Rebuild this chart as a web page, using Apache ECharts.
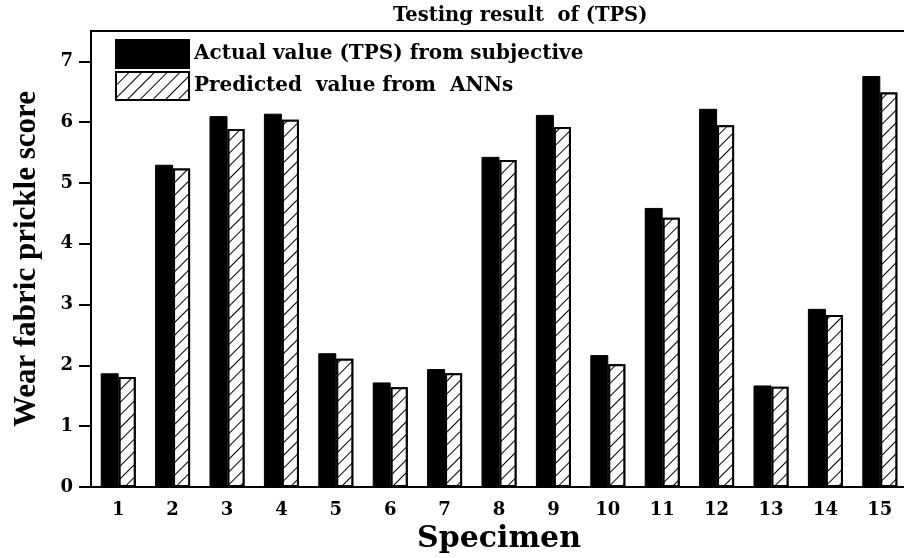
<!DOCTYPE html>
<html>
<head>
<meta charset="utf-8">
<script src="https://cdn.jsdelivr.net/npm/echarts@6/dist/echarts.min.js"></script>
<style>
  html, body { margin: 0; padding: 0; background: #fff; }
  #chart { width: 904px; height: 558px; }
</style>
</head>
<body>
<div id="chart"></div>
<script>
var specimens = ['1','2','3','4','5','6','7','8','9','10','11','12','13','14','15'];
var actual    = [1.87, 5.30, 6.10, 6.14, 2.20, 1.72, 1.94, 5.43, 6.12, 2.17, 4.59, 6.22, 1.67, 2.93, 6.76];
var predicted = [1.81, 5.24, 5.89, 6.04, 2.11, 1.64, 1.87, 5.38, 5.92, 2.02, 4.43, 5.95, 1.65, 2.83, 6.49];
var yTicks = [0, 1, 2, 3, 4, 5, 6, 7];

// the reference text is wide, DejaVu Serif gets closest
var wide = '"DejaVu Serif", serif';
var serif = '"Liberation Serif", "Times New Roman", serif';

var chart = echarts.init(document.getElementById('chart'));

var hatch = {
  symbol: 'rect',
  symbolSize: 1,
  dashArrayX: [1, 0],
  dashArrayY: [1, 7.5],
  rotation: -Math.PI / 4,
  color: '#000',
  backgroundColor: '#fff'
};

chart.setOption({
  animation: false,
  backgroundColor: '#fff',
  title: {
    text: 'Testing result  of (TPS)',
    left: 388,
    top: 1,
    textStyle: { fontFamily: wide, fontWeight: 'bold', fontSize: 19.5, color: '#000' }
  },
  legend: {
    orient: 'vertical',
    left: 110,
    top: 34,
    itemWidth: 73,
    itemHeight: 28,
    itemGap: 2,
    textStyle: { fontFamily: wide, fontWeight: 'bold', fontSize: 20, color: '#000' },
    data: [
      { name: 'Actual value (TPS) from subjective', icon: 'rect' },
      { name: 'Predicted  value from  ANNs', icon: 'rect' }
    ]
  },
  grid: {
    left: 91,
    top: 31,
    width: 816,
    bottom: 71,
    show: true,
    borderColor: '#000',
    borderWidth: 2,
    containLabel: false,
    outerBoundsMode: 'none'
  },
  xAxis: {
    type: 'category',
    data: specimens,
    name: 'Specimen',
    nameLocation: 'middle',
    nameGap: 34,
    nameTextStyle: { fontFamily: wide, fontWeight: 'bold', fontSize: 30, color: '#000' },
    axisLine: { lineStyle: { color: '#000', width: 2 } },
    axisTick: { alignWithLabel: true, length: 9, lineStyle: { color: '#000', width: 2 } },
    axisLabel: { fontFamily: wide, fontWeight: 'bold', fontSize: 18, color: '#000', margin: 14 }
  },
  yAxis: {
    type: 'value',
    min: 0,
    max: 7.5,
    interval: 1,
    name: 'Wear fabric prickle score',
    nameLocation: 'middle',
    nameGap: 49,
    nameTextStyle: { fontFamily: serif, fontWeight: 'bold', fontSize: 31, color: '#000' },
    axisLine: { show: true, lineStyle: { color: '#000', width: 2 } },
    axisTick: { show: true, length: 12, customValues: yTicks, lineStyle: { color: '#000', width: 2 } },
    axisLabel: {
      fontFamily: wide, fontWeight: 'bold', fontSize: 18, color: '#000', margin: 18,
      customValues: yTicks
    },
    splitLine: { show: false }
  },
  series: [
    {
      name: 'Actual value (TPS) from subjective',
      type: 'bar',
      data: actual,
      barWidth: 18,
      barGap: '0%',
      itemStyle: { color: '#000', borderColor: '#000', borderWidth: 1 }
    },
    {
      name: 'Predicted  value from  ANNs',
      type: 'bar',
      data: predicted,
      barWidth: 17,
      barGap: '0%',
      itemStyle: { color: '#fff', borderColor: '#000', borderWidth: 2, decal: hatch }
    }
  ]
});
</script>
</body>
</html>
